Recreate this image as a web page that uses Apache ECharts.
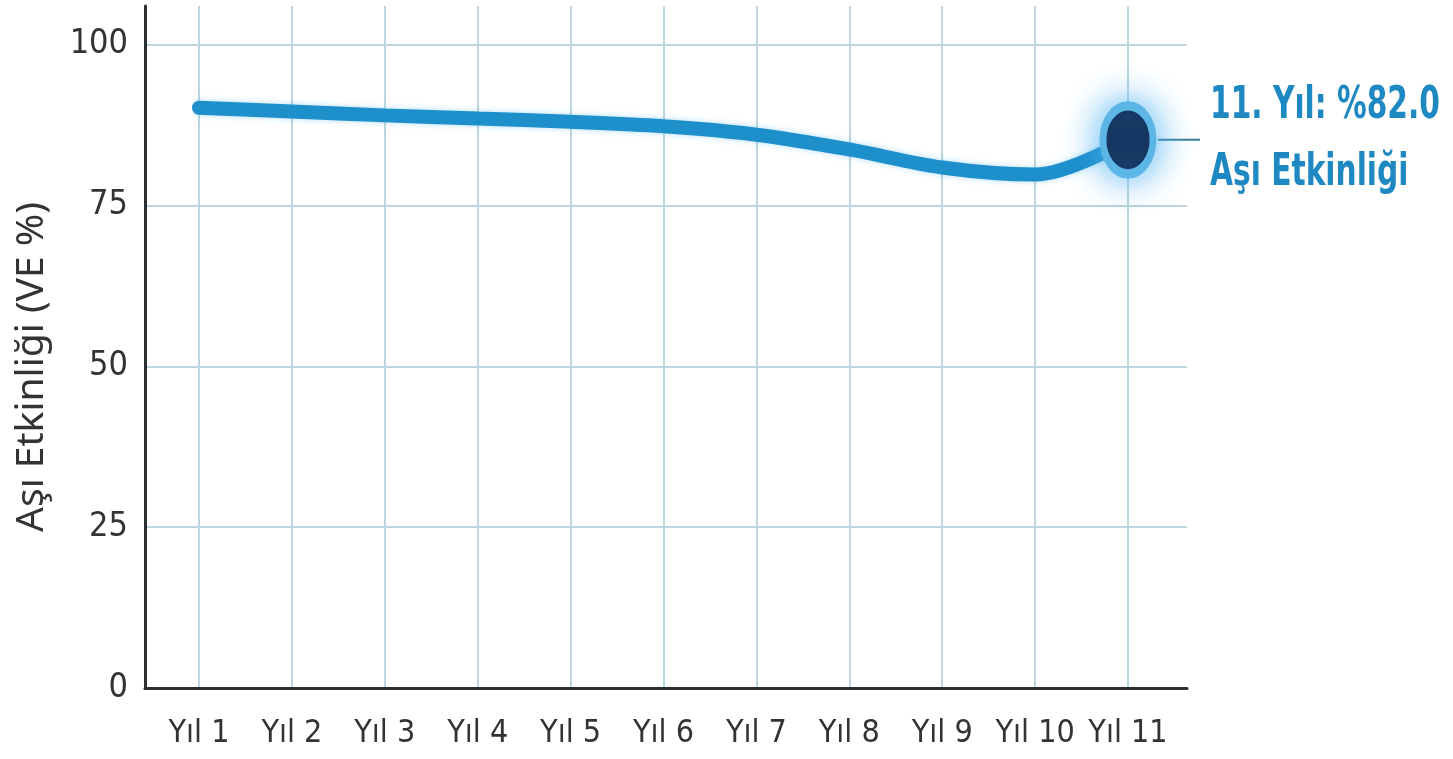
<!DOCTYPE html>
<html>
<head>
<meta charset="utf-8">
<script src="https://cdn.jsdelivr.net/npm/echarts@6/dist/echarts.min.js"></script>
<style>
  html, body { margin: 0; padding: 0; background: #fff; }
  #chart { width: 1453px; height: 759px; }
</style>
</head>
<body>
<div id="chart"></div>
<script>
// veriler
const years = ['Yıl 1', 'Yıl 2', 'Yıl 3', 'Yıl 4', 'Yıl 5', 'Yıl 6', 'Yıl 7', 'Yıl 8', 'Yıl 9', 'Yıl 10', 'Yıl 11']
const ve = [90.2, 89.6, 89.0, 88.5, 88.0, 87.3, 86.0, 83.7, 80.9, 79.8, 85.2]
const yTicks = [0, 25, 50, 75, 100]
const noteLines = ['11. Yıl: %82.0', 'Aşı Etkinliği']

const narrow = '"DejaVu Sans Condensed", "Roboto", sans-serif'
const gridColor = '#bcd5de'
const axisColor = '#2e2e2e'

const chart = echarts.init(document.getElementById('chart'))
const last = years.length - 1

chart.setOption({
  backgroundColor: '#ffffff',
  animation: false,
  grid: [
    { left: 145, right: 266, top: 6, bottom: 71 }, // eksenler + yatay çizgiler
    { left: 199, right: 325, top: 6, bottom: 71 } // kategoriler + seri
  ],
  xAxis: [
    {
      gridIndex: 0,
      type: 'value',
      min: 0,
      max: 1,
      axisLine: { show: true, lineStyle: { color: axisColor, width: 3 } },
      axisTick: { show: false },
      axisLabel: { show: false },
      splitLine: { show: false }
    },
    {
      gridIndex: 1,
      type: 'category',
      data: years,
      boundaryGap: false,
      axisLine: { show: false },
      axisTick: { show: false },
      axisLabel: {
        interval: 0,
        color: '#333',
        fontFamily: narrow,
        fontSize: 32,
        margin: 30
      },
      splitLine: { show: true, interval: 0, lineStyle: { color: gridColor, width: 2 } }
    }
  ],
  yAxis: [
    {
      gridIndex: 0,
      type: 'value',
      min: 0,
      max: 106,
      interval: 25,
      name: 'Aşı Etkinliği (VE %)',
      nameLocation: 'middle',
      nameGap: 94,
      nameTextStyle: {
        color: '#333',
        fontFamily: '"Noto Sans", sans-serif',
        fontSize: 39,
        padding: [0, 40, 0, 0]
      },
      axisLine: { show: true, lineStyle: { color: axisColor, width: 3 } },
      axisTick: { show: false },
      axisLabel: {
        color: '#333',
        fontFamily: narrow,
        fontSize: 34,
        margin: 17,
        formatter: (v) => (yTicks.indexOf(v) >= 0 ? String(v) : '')
      },
      splitLine: { show: true, showMaxLine: false, showMinLine: false, lineStyle: { color: gridColor, width: 2 } }
    },
    {
      gridIndex: 1,
      type: 'value',
      min: 0,
      max: 106,
      interval: 25,
      axisLine: { show: false },
      axisTick: { show: false },
      axisLabel: { show: false },
      splitLine: { show: false }
    }
  ],
  series: [
    {
      type: 'line',
      xAxisIndex: 1,
      yAxisIndex: 1,
      data: ve,
      smooth: 0.35,
      symbol: 'none',
      lineStyle: {
        color: '#1d8fcb',
        width: 14,
        cap: 'round',
        shadowColor: 'rgba(80,180,235,0.45)',
        shadowBlur: 6
      },
      z: 3
    },
    {
      type: 'scatter',
      xAxisIndex: 1,
      yAxisIndex: 1,
      data: [[years[last], ve[last]]],
      symbol: 'circle',
      symbolSize: [50, 68],
      itemStyle: {
        color: '#0c1c42',
        opacity: 1,
        borderColor: '#5bb6e6',
        borderWidth: 8,
        shadowColor: 'rgba(70,175,240,0.95)',
        shadowBlur: 36
      },
      emphasis: { disabled: true },
      z: 5
    }
  ]
})

// açıklama: son noktadan sağa çizgi ve metin
const p = chart.convertToPixel({ xAxisIndex: 1, yAxisIndex: 1 }, [last, ve[last]])
chart.setOption({
  graphic: [
    {
      type: 'line',
      shape: { x1: p[0] + 30, y1: p[1], x2: p[0] + 72, y2: p[1] },
      style: { stroke: '#3b7fa3', lineWidth: 2 },
      z: 4
    },
    {
      type: 'text',
      x: p[0] + 82,
      y: p[1],
      scaleY: 1.35,
      style: {
        text: noteLines.join('\n'),
        fill: '#1d88c2',
        font: 'bold 33px ' + narrow,
        lineHeight: 50,
        textAlign: 'left',
        textVerticalAlign: 'middle'
      }
    }
  ]
})
</script>
</body>
</html>
